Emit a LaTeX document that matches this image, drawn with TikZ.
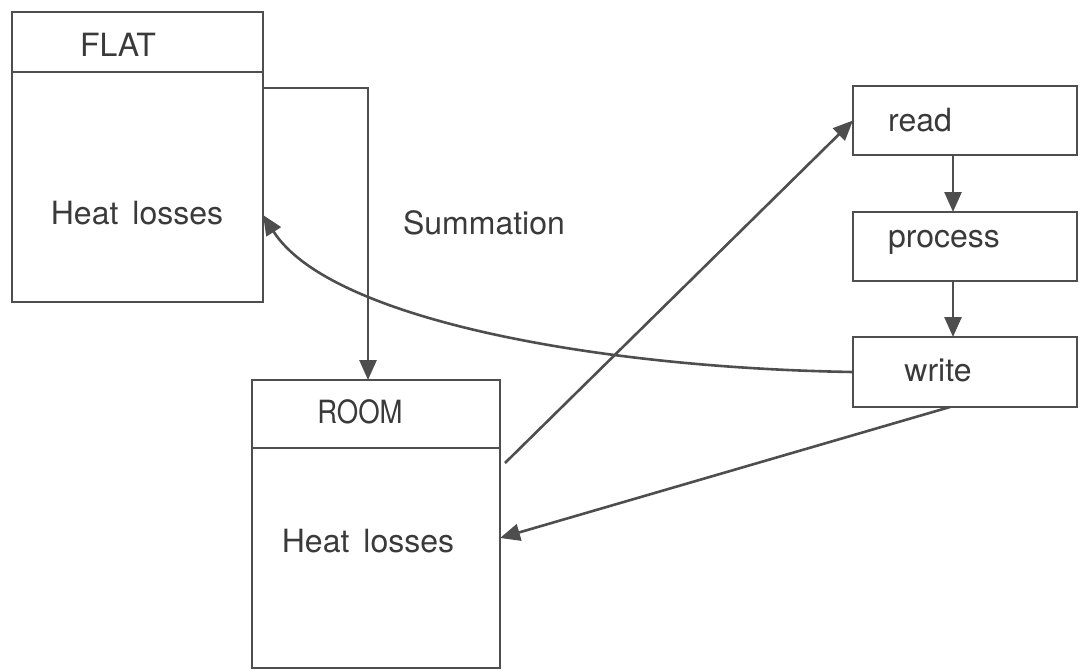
\documentclass[tikz,border=0pt]{standalone}
\usepackage{fontspec}
\setmainfont{TeX Gyre Heros}
\usetikzlibrary{arrows.meta}
\definecolor{ink}{HTML}{4E4E4E}
\definecolor{txt}{HTML}{3A3A3A}
\begin{document}
\begin{tikzpicture}[x=1pt,y=-1pt,
  ln/.style={draw=ink,line width=2.6pt},
  box/.style={ln,rectangle,inner sep=0pt,outer sep=0pt},
  arr/.style={ln,-{Triangle[length=20pt,width=17pt]}},
  lbl/.style={text=txt,font=\fontsize{32}{36}\selectfont,inner sep=0pt}]
\useasboundingbox (0,0) rectangle (1080,672);
% boxes
\node[box,minimum width=251pt,minimum height=290pt] (flat) at (137.5,157) {};
\node[box,minimum width=248pt,minimum height=288pt] (room) at (376,524) {};
\node[box,minimum width=224pt,minimum height=69pt] (read) at (965,120.5) {};
\node[box,minimum width=224pt,minimum height=69pt] (process) at (965,246.5) {};
\node[box,minimum width=224pt,minimum height=70pt] (write) at (965,372) {};
% header separators
\coordinate (fh) at (0,72);
\coordinate (rh) at (0,448);
\draw[ln] (flat.west |- fh) -- (flat.east |- fh);
\draw[ln] (room.west |- rh) -- (room.east |- rh);
% labels
\node[lbl] (flatT) at (118,45) {FLAT};
\node[lbl] (flatH) at (137,213) {Heat\hspace{14pt}losses};
\node[lbl] (roomT) at (360,412) {\scalebox{0.86}[1]{ROOM}};
\node[lbl] (roomH) at (368,541) {Heat\hspace{14pt}losses};
\node[lbl] (summ) at (484,223) {Summation};
\node[lbl] (readT) at (920,120) {read};
\node[lbl] (procT) at (944,242) {process};
\node[lbl] (writeT) at (938,370) {write};
% connectors
\coordinate (sc) at (368,88);
\draw[arr] (flat.east |- sc) -| (room.north -| sc);
\coordinate (vx) at (953,0);
\draw[arr] (read.south -| vx) -- (process.north -| vx);
\draw[arr] (process.south -| vx) -- (write.north -| vx);
\coordinate (ra) at (505,463);
\draw[arr] (ra) -- (read.west);
\coordinate (wb) at (950,0);
\coordinate (rb) at (0,538);
\draw[arr] (write.south -| wb) -- (room.east |- rb);
\coordinate (fa) at (0,215);
\draw[arr] (write.west) .. controls (600,368) and (330,320) .. (flat.east |- fa);
\end{tikzpicture}
\end{document}
